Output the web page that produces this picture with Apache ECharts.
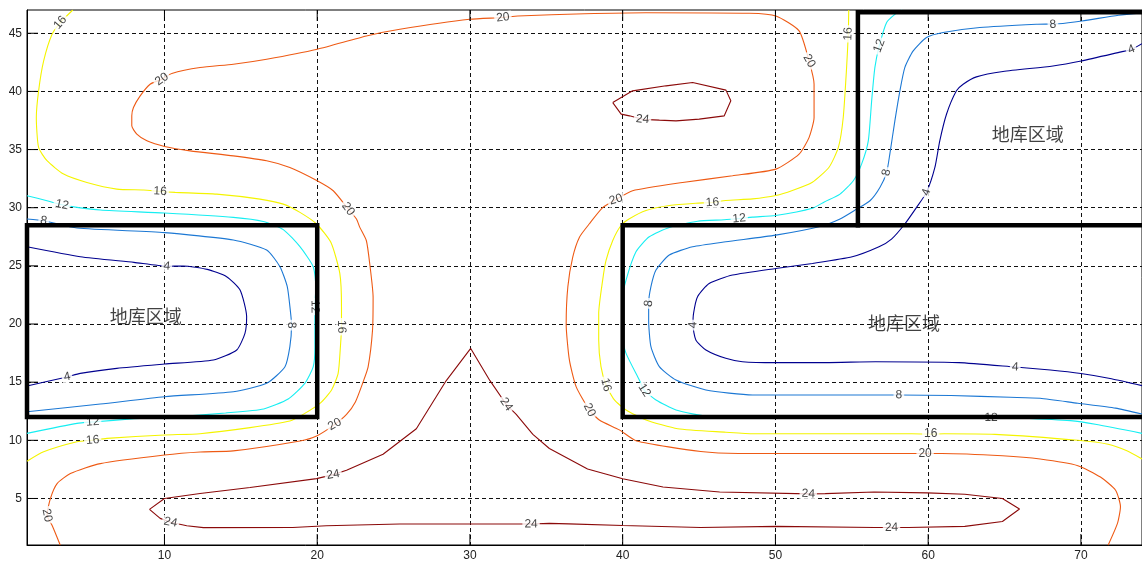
<!DOCTYPE html>
<html>
<head>
<meta charset="utf-8">
<script src="https://cdn.jsdelivr.net/npm/echarts@6/dist/echarts.min.js"></script>
<style>
  html, body { margin: 0; padding: 0; background: #fff; }
  #chart { width: 1142px; height: 562px; }
</style>
</head>
<body>
<div id="chart"></div>
<script>
// Axis ticks
const xTicks = [10, 20, 30, 40, 50, 60, 70];
const yTicks = [5, 10, 15, 20, 25, 30, 35, 40, 45];

// Contour levels
const levels = [4, 8, 12, 16, 20, 24];

// Contour polylines per level, [x, y] pairs
const contour4 = [
  [[1,26.65],[4.49,25.79],[8,25.3],[10.15,24.97],[11.24,24.99],[12.8,24.7],[14.07,24.07],[14.95,22.92],[15.38,20.63],[15.27,19.2],[14.73,17.77],[13.2,16.91],[10,16.56],[6.88,16.19],[4.49,15.76],[3.62,15.45],[1,14.67]],
  [[74,44.1],[73.3,43.6],[72.64,43.4],[70.02,42.62],[68.17,42.19],[64.9,41.71],[63.16,41.25],[62.29,40.62],[61.85,40.05],[61.2,38.04],[60.76,35.75],[60.44,33.46],[59.89,31.32],[59.24,30.03],[58.47,28.6],[57.6,27.3],[56.78,26.64],[55.03,25.78],[52.42,25.21],[50.02,24.78],[47.19,24.21],[45.66,23.49],[44.9,22.35],[44.64,20.92],[44.6,19.91],[44.79,18.63],[45.45,17.77],[46.75,17.05],[47.84,16.76],[50.02,16.68],[53.29,16.68],[56.56,16.76],[62,16.68],[65.7,16.3],[68,16.05],[70,15.75],[72,15.3],[74,14.7]]
];
const contour8 = [
  [[1,29.03],[2.09,28.88],[4.27,28.25],[10,27.86],[14.51,27.22],[16.69,26.36],[17.56,24.93],[18.04,23.21],[18.26,20.92],[18.32,19.91],[18.21,18.05],[17.89,16.33],[16.69,14.9],[14.51,14.18],[10,13.75],[5.8,13.12],[1,12.46]],
  [[74,46.75],[72.46,46.55],[70.07,46.06],[68.54,45.82],[67.08,45.77],[63.38,45.49],[60.98,45.06],[59.89,44.63],[59.02,43.48],[58.47,42.05],[58.15,40.05],[57.82,37.47],[57.49,34.61],[57.28,33.03],[56.84,31.74],[56.19,30.6],[55.32,29.88],[54.23,29.03],[52.85,28.36],[50.02,27.64],[46.75,27.07],[44.58,26.64],[43.05,25.93],[42.18,24.64],[41.85,23.21],[41.7,21.77],[41.7,20.34],[41.85,18.05],[42.4,16.34],[43.49,15.19],[45.45,14.33],[48.5,13.9],[53.29,13.9],[58.08,13.9],[61.5,13.85],[65.36,13.7],[67.33,13.62],[69.8,13.19],[72.27,12.77],[74,12.26]]
];
const contour12 = [
  [[1,31.03],[2.31,30.6],[3.29,30.25],[4.27,30.03],[5.8,29.8],[10,29.54],[14.51,29.17],[16.47,28.82],[17.78,28.12],[18.87,26.65],[19.74,24.93],[19.91,23.2],[19.85,21.5],[19.85,18.05],[19.74,16.33],[19.19,14.9],[18.1,13.55],[16.5,12.7],[14,12.35],[11,12.05],[8,11.85],[5.3,11.58],[4.27,11.46],[1,10.6]],
  [[58.3,47],[57.82,46.63],[57.28,45.92],[56.8,43.91],[56.51,42.05],[56.3,39.19],[56.08,35.75],[55.64,33.75],[55.1,32.32],[54.23,31.17],[53.2,30.5],[52.42,29.95],[50.02,29.33],[48.5,29.19],[47.63,29.07],[46.64,28.96],[44.9,28.84],[43.05,28.3],[41.74,27.5],[40.87,26.21],[40.22,23.78],[39.95,22],[39.95,19],[40.22,17.48],[41.09,15.19],[41.42,14.3],[42.18,13.47],[43.49,12.61],[45.66,12.04],[50,11.95],[58,11.95],[64.12,11.95],[66,11.9],[69.31,11.69],[71.04,11.36],[74,10.6]]
];
const contour16 = [
  [[4.0,47],[3.18,45.92],[2.64,44.91],[2.09,42.62],[1.76,40.05],[1.61,37.76],[1.76,35.18],[2.31,34.04],[3.4,32.89],[4.92,32.17],[6.88,31.6],[8.63,31.52],[9.72,31.4],[10.7,31.32],[13.42,31.17],[16.25,30.74],[17.78,30.31],[18.87,29.6],[19.96,28.6],[20.9,27.0],[21.48,24.36],[21.59,21.49],[21.59,19.77],[21.52,18.05],[21.37,15.76],[20.94,14.33],[20.2,13.2],[19.08,12.23],[18.21,11.66],[15.6,11.09],[12.33,10.57],[10,10.46],[6.23,10.17],[5.3,10.02],[4.27,9.87],[2.09,9.01],[1,8.2]],
  [[54.8,47],[54.77,44.95],[54.66,42.05],[54.44,37.76],[54.12,35.18],[53.51,33.48],[52.42,32.19],[51.11,31.48],[50.02,31.05],[48.5,30.76],[46.75,30.62],[45.88,30.45],[44.79,30.39],[43.05,30.19],[41.53,29.76],[40.44,29.05],[39.89,28.47],[39.35,27.18],[38.91,25.47],[38.69,23.78],[38.43,20.92],[38.43,18.63],[38.58,16.34],[38.91,14.76],[39.46,13.47],[40.22,12.61],[41.53,11.75],[43.6,11.0],[46.75,10.7],[48.57,10.56],[58.94,10.56],[60.17,10.53],[61.04,10.56],[64.37,10.51],[69.8,10.0],[71.78,9.66],[73.01,9.1],[74,8.4]]
];
const contour20 = [
  [[3.18,0.98],[2.64,2.7],[2.31,3.55],[2.53,4.99],[2.97,6.28],[3.84,7.14],[5.8,8.0],[10,8.74],[12.33,9.0],[14.5,9.09],[18.87,9.94],[19.96,10.37],[21.15,11.37],[21.92,12.23],[22.5,13.3],[23.0,15.0],[23.33,16.29],[23.62,19.44],[23.66,22.3],[23.44,25.17],[23.22,27.16],[22.79,28.31],[22.57,29.03],[22.03,29.89],[21.05,31.46],[20,32.32],[18.21,33.46],[16.69,34.04],[14.51,34.46],[11.68,34.89],[10,35.27],[8.85,35.75],[8.19,36.33],[7.86,37.04],[7.86,37.9],[7.97,38.62],[8.41,39.62],[9.06,40.62],[9.83,41.05],[10.48,41.54],[12.33,42.05],[14.51,42.34],[16.69,42.77],[20,43.63],[23.22,44.77],[25.41,45.34],[29.98,46.2],[32.16,46.35],[33.14,46.49],[37.5,46.68],[41.53,46.77],[48.28,46.72],[50.03,46.49],[51.55,45.2],[52.2,42.62],[52.53,40.62],[52.53,37.75],[52.2,36.03],[51.55,34.61],[50.03,33.32],[47.19,32.75],[43.92,32.17],[40.65,31.46],[39.56,30.7],[38.69,30.0],[37.82,28.62],[37.17,27.47],[36.73,25.75],[36.41,23.21],[36.3,20],[36.51,16.91],[36.95,14.62],[37.82,12.61],[38.47,11.75],[39.78,10.9],[40.91,9.94],[45.11,9.04],[47.58,8.87],[58.94,8.87],[59.8,8.87],[60.91,8.87],[64.86,8.67],[67.33,8.39],[69.8,7.82],[71.28,6.84],[72.27,5.71],[72.59,4.29],[72.4,2.88],[71.78,0.98]]
];
const contour24 = [
  [[39.35,39.04],[40.65,40.05],[42.84,40.48],[44.58,40.76],[46.76,40.11],[47.08,39.19],[46.65,37.9],[45.01,37.62],[43.49,37.47],[42.4,37.53],[41.3,37.6],[40.44,37.9],[39.9,38.05],[39.35,39.04]],
  [[9.02,4.06],[10,5],[12.33,5.43],[15.6,5.94],[19.96,6.71],[21.05,7.05],[21.92,7.43],[24.31,8.8],[26.49,11],[28.45,15.14],[30.05,17.9],[31.3,15.15],[32.37,13.1],[33.03,12.23],[34.12,10.51],[35.2,9.3],[37.7,7.54],[40,6.7],[42.64,5.99],[46.35,5.56],[52.15,5.4],[53.26,5.42],[56.47,5.56],[59.93,5.48],[62.4,5.37],[64.86,5.0],[65.98,4.1],[64.86,3.02],[62.4,2.6],[58.7,2.51],[57.6,2.5],[56.5,2.5],[50.05,2.6],[45.1,2.51],[40,2.68],[36.47,2.82],[35.2,2.86],[34.0,2.8],[33.03,2.8],[25.4,2.8],[20.6,2.66],[18.4,2.51],[12.55,2.49],[11.46,2.66],[10.4,2.95],[9.72,3.29],[9.02,4.06]]
];

// Inline contour labels: [x, y, level]
const contourLabels = [
  [41.3,37.6,24],[21.05,7.05,24],[32.37,13.1,24],[10.4,2.95,24],[34.0,2.8,24],[52.15,5.4,24],[57.6,2.5,24],
  [9.83,41.05,20],[32.16,46.35,20],[22.03,29.89,20],[21.15,11.37,20],[2.31,3.55,20],[52.2,42.62,20],[39.56,30.7,20],[37.82,12.61,20],[59.8,8.87,20],
  [3.18,45.92,16],[9.72,31.4,16],[21.59,19.77,16],[5.3,10.02,16],[45.88,30.45,16],[38.91,14.76,16],[60.17,10.53,16],[54.77,44.95,16],
  [3.29,30.25,12],[19.85,21.5,12],[5.3,11.58,12],[47.63,29.07,12],[41.42,14.3,12],[64.12,11.95,12],[56.8,43.91,12],
  [2.09,28.88,8],[18.32,19.91,8],[41.7,21.77,8],[58.08,13.9,8],[57.28,33.03,8],[68.17,45.75,8],
  [10.15,24.97,4],[3.62,15.45,4],[44.6,19.91,4],[65.7,16.3,4],[59.89,31.32,4],[73.3,43.6,4]
];

// Basement outlines (corner points)
const basementLeft = [[1,12],[20,12],[20,28.5],[1,28.5],[1,12]];
const basementRight = [[74,28.5],[40,28.5],[40,12],[74,12]];
const basementUpper = [[55.4,28.5],[55.4,46.8],[74,46.8]];

// Region captions: [x, y, text]
const regionNotes = [[6.45,20.6,'地库区域'],[56.1,20.0,'地库区域'],[64.2,36.3,'地库区域']];

const contourSets = { 4: contour4, 8: contour8, 12: contour12, 16: contour16, 20: contour20, 24: contour24 };
const levelColor = { 4: '#00008f', 8: '#1c78d4', 12: '#16eef2', 16: '#f4f400', 20: '#ee5a14', 24: '#8b0a0a' };

const chart = echarts.init(document.getElementById('chart'), null, { renderer: 'canvas' });
const numFont = 'Liberation Sans, Arial, sans-serif';
const X_MIN = 1, X_MAX = 74, Y_MIN = 1, Y_MAX = 47, TICK_LEN = 11;

const series = [];
levels.forEach(lv => {
  contourSets[lv].forEach(line => {
    series.push({
      type: 'line', data: line, showSymbol: false, symbol: 'none', silent: true,
      smooth: lv === 24 ? false : 0.2,
      lineStyle: { color: levelColor[lv], width: 1.1 }, z: 2, animation: false
    });
  });
});
series.push({
  id: 'clabels', type: 'scatter', symbolSize: 1, silent: true, z: 3, animation: false,
  itemStyle: { color: 'rgba(0,0,0,0)' },
  data: contourLabels.map(d => ({ value: [d[0], d[1]], level: d[2] })),
  label: {
    show: true, position: 'inside', color: '#111', fontSize: 12, fontFamily: numFont,
    backgroundColor: '#fff', padding: [0, 2],
    formatter: p => String(p.data.level)
  }
});
[basementLeft, basementRight, basementUpper].forEach(r => {
  series.push({
    type: 'line', data: r, showSymbol: false, symbol: 'none', silent: true, clip: false,
    lineStyle: { color: '#000', width: 4.5, cap: 'square', join: 'miter' }, z: 5, animation: false
  });
});
series.push({
  type: 'scatter', symbolSize: 1, silent: true, z: 6, animation: false,
  itemStyle: { color: 'rgba(0,0,0,0)' },
  data: regionNotes.map(d => ({ value: [d[0], d[1]], note: d[2] })),
  label: {
    show: true, position: [0, 0], align: 'left', verticalAlign: 'middle',
    color: '#111', fontSize: 18, fontFamily: 'Noto Sans CJK SC, sans-serif',
    formatter: p => p.data.note
  }
});

// Inward tick marks on the frame, placed through the axis scales
const tickStyle = { stroke: '#000', lineWidth: 1 };
series.push({
  type: 'custom', silent: true, z: 4, animation: false, clip: false,
  data: xTicks.map(v => [v]),
  dimensions: ['x'], encode: { x: 0 },
  renderItem: (params, api) => {
    const b = api.coord([api.value(0), Y_MIN]);
    const t = api.coord([api.value(0), Y_MAX]);
    return { type: 'group', children: [
      { type: 'line', shape: { x1: b[0], y1: b[1], x2: b[0], y2: b[1] - TICK_LEN }, style: tickStyle },
      { type: 'line', shape: { x1: t[0], y1: t[1], x2: t[0], y2: t[1] + TICK_LEN }, style: tickStyle }
    ] };
  }
});
series.push({
  type: 'custom', silent: true, z: 4, animation: false, clip: false,
  data: yTicks.map(v => [X_MIN, v]),
  encode: { x: 0, y: 1 },
  renderItem: (params, api) => {
    const l = api.coord([X_MIN, api.value(1)]);
    return { type: 'line', shape: { x1: l[0], y1: l[1], x2: l[0] + TICK_LEN, y2: l[1] }, style: tickStyle };
  }
});

const gridLine = { show: true, lineStyle: { color: '#111', width: 1, type: [4, 3] } };

chart.setOption({
  animation: false,
  backgroundColor: '#fff',
  grid: { left: 27, top: 10, width: 1117, height: 535, show: true, borderColor: '#000', borderWidth: 1, containLabel: false },
  xAxis: [{
    type: 'value', min: X_MIN, max: X_MAX, position: 'bottom',
    axisLine: { show: true, lineStyle: { color: '#000', width: 1 } },
    axisTick: { show: false },
    axisLabel: { customValues: xTicks, color: '#222', fontSize: 12, fontFamily: numFont, margin: 5 },
    splitLine: gridLine
  }],
  yAxis: [{
    type: 'value', min: Y_MIN, max: Y_MAX,
    axisLine: { show: true, lineStyle: { color: '#000', width: 1 } },
    axisTick: { show: false, customValues: yTicks },
    axisLabel: { customValues: yTicks, color: '#222', fontSize: 12, fontFamily: numFont, margin: 5 },
    splitLine: gridLine
  }],
  series: series
});

// Rotate each inline label along its contour, measured in pixel space
function labelAngle(pt, lines) {
  let best = Infinity, ang = 0;
  lines.forEach(line => {
    const n = line.length;
    for (let i = 0; i < n - 1; i++) {
      const a = line[i], b = line[i + 1];
      const dx = b[0] - a[0], dy = b[1] - a[1];
      const len2 = dx * dx + dy * dy || 1e-9;
      let t = ((pt[0] - a[0]) * dx + (pt[1] - a[1]) * dy) / len2;
      t = Math.max(0, Math.min(1, t));
      const qx = a[0] + t * dx, qy = a[1] + t * dy;
      const d = (pt[0] - qx) ** 2 + (pt[1] - qy) ** 2;
      if (d < best) {
        best = d;
        const p0 = line[Math.max(i - 1, 0)], p1 = line[Math.min(i + 2, n - 1)];
        ang = Math.atan2(-(p1[1] - p0[1]), p1[0] - p0[0]) * 180 / Math.PI;
      }
    }
  });
  if (ang > 90) ang -= 180;
  if (ang <= -90) ang += 180;
  return ang;
}
const toPx = p => chart.convertToPixel({ gridIndex: 0 }, p);
const pxSets = {};
levels.forEach(lv => { pxSets[lv] = contourSets[lv].map(line => line.map(toPx)); });
chart.setOption({
  series: [{
    id: 'clabels',
    data: contourLabels.map(d => ({
      value: [d[0], d[1]], level: d[2],
      label: { rotate: labelAngle(toPx([d[0], d[1]]), pxSets[d[2]]) }
    }))
  }]
});
</script>
</body>
</html>
